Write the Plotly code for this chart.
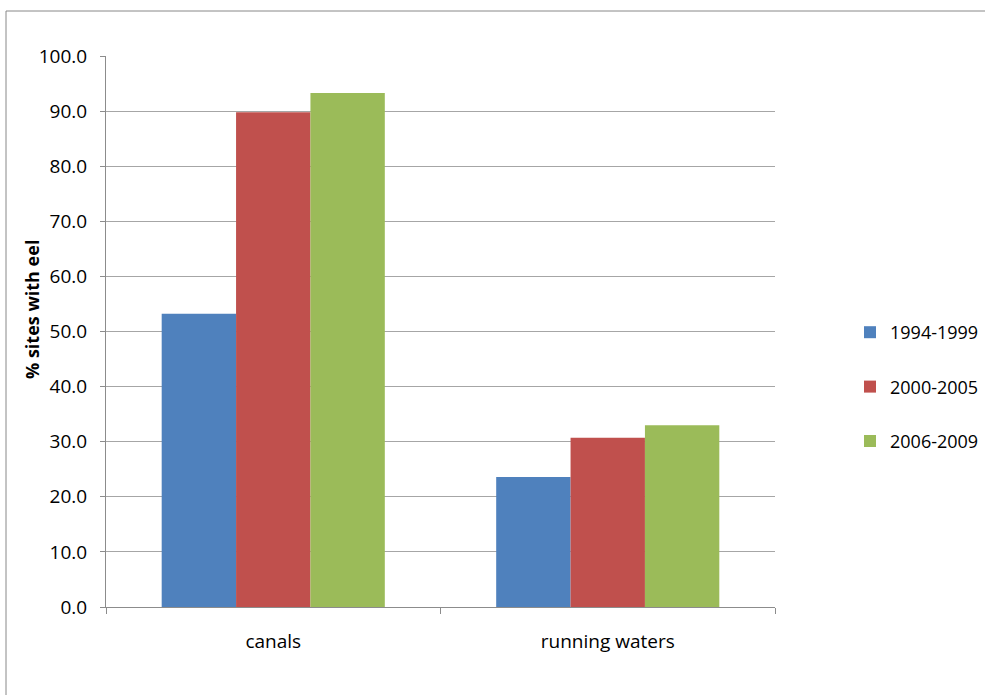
import plotly.graph_objects as go

categories = ["canals", "running waters"]
series_names = ["1994-1999", "2000-2005", "2006-2009"]
values_1994 = [53.2, 23.6]
values_2000 = [89.8, 30.7]
values_2006 = [93.3, 33.0]
colors = ["#4F81BD", "#C0504D", "#9BBB59"]
y_ticks = [0, 10, 20, 30, 40, 50, 60, 70, 80, 90, 100]
y_tick_labels = [f"{v:.1f}" for v in y_ticks]
y_title = "% sites with eel"

fig = go.Figure()
for name, vals, col in zip(series_names, [values_1994, values_2000, values_2006], colors):
    fig.add_trace(go.Bar(x=categories, y=vals, name=name, legendgroup=name,
                         marker=dict(color=col, line=dict(width=0))))

W, H = 985, 695
L, R, T, B = 106, 210, 56, 88
pw, ph = W - L - R, H - T - B

fig.update_layout(
    width=W, height=H,
    margin=dict(l=L, r=R, t=T, b=B, autoexpand=False),
    paper_bgcolor="white", plot_bgcolor="white",
    barmode="group", bargap=0.333, bargroupgap=0,
    font=dict(family="Open Sans, sans-serif", size=19, color="#000000"),
    showlegend=True,
    legend=dict(x=(850 - L) / pw, y=(607 - 387) / ph, xanchor="left", yanchor="middle",
                font=dict(size=18), tracegroupgap=28, itemwidth=30,
                bgcolor="rgba(0,0,0,0)"),
    xaxis=dict(showline=True, linecolor="#8c8c8c", linewidth=1, ticks="outside",
               tickson="boundaries", ticklen=6, tickcolor="#8c8c8c",
               showgrid=False, tickfont=dict(size=19), range=[-0.5, 1.5],
               ticklabelstandoff=17),
    yaxis=dict(range=[0, 100], tickvals=y_ticks, ticktext=y_tick_labels,
               showgrid=True, gridcolor="#a6a6a6", gridwidth=1,
               showline=True, linecolor="#8c8c8c", linewidth=1,
               ticks="outside", ticklen=5, tickcolor="#8c8c8c",
               tickfont=dict(size=19), zeroline=False, ticklabelstandoff=9),
    annotations=[dict(text="<b>" + y_title + "</b>", xref="paper", yref="paper",
                      x=(32 - L) / pw, y=(607 - 310) / ph, xanchor="center", yanchor="middle",
                      textangle=-90, showarrow=False, font=dict(size=18))],
    shapes=[dict(type="rect", xref="paper", yref="paper",
                 x0=(6 - L) / pw, x1=(1200 - L) / pw,
                 y0=(607 - 900) / ph, y1=(607 - 11) / ph,
                 line=dict(color="#888888", width=1), fillcolor="rgba(0,0,0,0)", layer="below")],
)

fig.write_html("out.html", config={"displayModeBar": False},
               post_script="document.body.style.margin='0';document.body.style.overflow='hidden';")
